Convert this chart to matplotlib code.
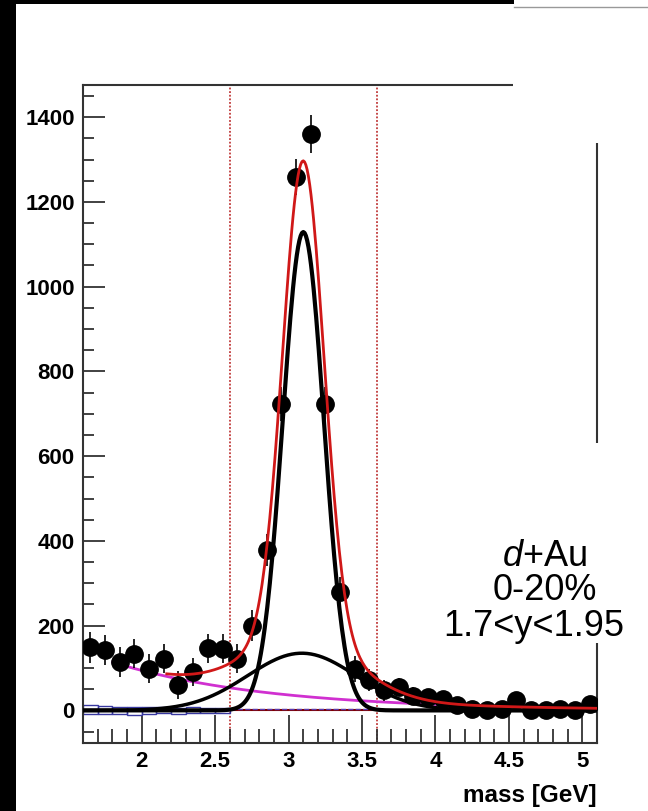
import numpy as np
import matplotlib.pyplot as plt
from matplotlib.patches import Rectangle

plt.rcParams['font.family'] = ['Liberation Sans', 'DejaVu Sans']
plt.rcParams['mathtext.fontset'] = 'custom'
plt.rcParams['mathtext.it'] = 'Liberation Sans:italic'
plt.rcParams['mathtext.rm'] = 'Liberation Sans'

# unlike-sign dimuon mass spectrum, 0.1 GeV bins
mass = np.round(np.arange(1.65, 5.1, 0.1), 2)
counts = [149, 142, 114, 134, 98, 122, 59, 90, 147, 146,
          122, 200, 378, 724, 1259, 1361, 724, 279, 98, 71,
          47, 55, 35, 31, 28, 12, 4, 0, 4, 24,
          2, 0, 3, 2, 14]
errors = [36, 36, 35, 35, 34, 34, 33, 33, 34, 34,
          34, 36, 38, 40, 43, 45, 40, 35, 30, 26,
          24, 22, 20, 18, 17, 16, 15, 15, 15, 15,
          14, 14, 14, 14, 14]

# like-sign background boxes near zero
ls_mass = [1.65, 1.75, 1.85, 1.95, 2.05, 2.15, 2.25, 2.35, 2.45, 2.55]
ls_vals = [2, 1, 0, -1, 0, 1, -2, 0, -1, 0]
ls_errs = [10, 10, 9, 9, 8, 8, 7, 7, 6, 6]

# fit components
jpsi_amp, jpsi_mu, jpsi_sig = 1129.0, 3.10, 0.14
wide_amp, wide_mu, wide_sig = 135.0, 3.09, 0.37
bkg_amp, bkg_x0, bkg_slope = 114.0, 1.8, 0.95
window = [2.6, 3.6]


def gaus(x, a, mu, s):
    return a * np.exp(-0.5 * ((x - mu) / s) ** 2)


def expo(x):
    return bkg_amp * np.exp(-bkg_slope * (x - bkg_x0))


fig = plt.figure(figsize=(6.48, 8.11), dpi=100)
fig.patch.set_facecolor('white')
ax = fig.add_axes([0.1281, 0.0838, 0.7932, 0.8114])

# fit range curves
xf = np.linspace(1.6, 5.1, 400)
ax.axhline(0, color='#800000', lw=1.5, zorder=2)

for xc, v, e in zip(ls_mass, ls_vals, ls_errs):
    ax.add_patch(Rectangle((xc - 0.05, v - e), 0.1, 2 * e, fill=False,
                           edgecolor='#3838a0', lw=1.0, zorder=2))
    ax.plot([xc - 0.04, xc + 0.04], [v + 3, v + 3], color='white', lw=1.0,
            ls='--', zorder=3)
ax.plot([2.6, 3.6], [3, 3], color='#5a3ab0', lw=1.0, ls='--', zorder=2)

xb = xf[xf >= 1.8]
ax.plot(xb, expo(xb), color='#d030d0', lw=2, zorder=3)

ax.plot(xf, gaus(xf, wide_amp, wide_mu, wide_sig), color='black', lw=2.5, zorder=3)
ax.plot(xf, gaus(xf, jpsi_amp, jpsi_mu, jpsi_sig), color='black', lw=3, zorder=3)

xt = xf[xf >= 2.17]
total = gaus(xt, jpsi_amp, jpsi_mu, jpsi_sig) + gaus(xt, wide_amp, wide_mu, wide_sig) + expo(xt)
ax.plot(xt, total, color='#d01818', lw=2, zorder=5)

ax.errorbar(mass, counts, yerr=errors, fmt='o', color='black', ms=12.5,
            elinewidth=1.2, capsize=0, zorder=4)

for w in window:
    ax.axvline(w, color='#c03a3a', lw=1.3, ls=(0, (1, 1)), zorder=1)

ax.set_xlim(1.6, 5.1)
ax.set_ylim(-77, 1476)
ax.set_xticks([2, 2.5, 3, 3.5, 4, 4.5, 5])
ax.set_xticklabels(['2', '2.5', '3', '3.5', '4', '4.5', '5'])
ax.set_xticks(np.arange(1.7, 5.1, 0.1), minor=True)
ax.set_yticks(np.arange(0, 1401, 200))
ax.set_yticks(np.arange(-50, 1451, 50), minor=True)

ax.tick_params(which='major', direction='in', length=16, width=1.3,
               color='#333333', labelsize=16, pad=6)
ax.tick_params(which='minor', direction='in', length=8, width=1.3, color='#333333')
ax.tick_params(axis='x', which='major', length=20)
ax.tick_params(axis='x', which='minor', length=10)
for lab in ax.get_xticklabels() + ax.get_yticklabels():
    lab.set_fontweight('bold')
for sp in ax.spines.values():
    sp.set_color('#333333')
    sp.set_linewidth(1.5)

fig.text(0.9213, 0.0195, 'mass [GeV]', ha='right', va='center',
         fontsize=17.5, fontweight='bold')

# label panel sitting over the right side of the frame
fig.add_artist(Rectangle((513 / 648, 1 - 143 / 811), 135 / 648, 137 / 811,
                         transform=fig.transFigure, facecolor='white',
                         edgecolor='none', zorder=10))
fig.add_artist(Rectangle((440 / 648, 1 - 643 / 811), 208 / 648, 200 / 811,
                         transform=fig.transFigure, facecolor='white',
                         edgecolor='none', zorder=10))
fig.text(545 / 648, 1 - 556 / 811, r'$\mathit{d}$+Au', ha='center', va='center',
         fontsize=26, zorder=11)
fig.text(545 / 648, 1 - 591 / 811, '0-20%', ha='center', va='center',
         fontsize=26, zorder=11)
fig.text(534 / 648, 1 - 627 / 811, '1.7<y<1.95', ha='center', va='center',
         fontsize=26, zorder=11)

# dark frame edges
fig.add_artist(Rectangle((0, 0), 16 / 648, 1, transform=fig.transFigure,
                         facecolor='black', edgecolor='none', zorder=12))
fig.add_artist(Rectangle((0, 1 - 4 / 811), 514 / 648, 4 / 811,
                         transform=fig.transFigure, facecolor='black',
                         edgecolor='none', zorder=12))
fig.add_artist(plt.Line2D([514 / 648, 1], [1 - 7 / 811, 1 - 7 / 811],
                          transform=fig.transFigure, color='#999999', lw=1,
                          zorder=12))

fig.savefig('out.png', dpi=100)
